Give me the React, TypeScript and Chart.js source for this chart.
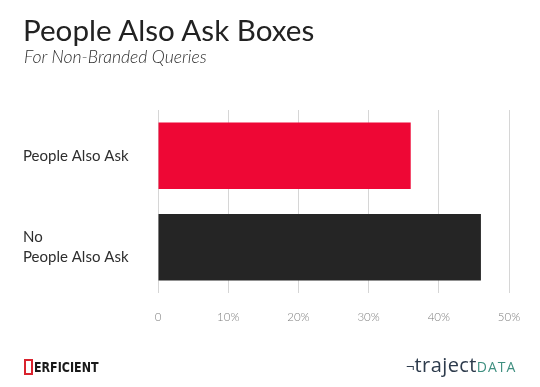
import React, { useEffect, useRef } from "react";
import { Chart, registerables } from "chart.js";

Chart.register(...registerables);

const categories: (string | string[])[] = ["People Also Ask", ["No", "People Also Ask"]];
const values: number[] = [36, 46];
const barColors: string[] = ["#ee0735", "#252525"];
const xTicks: number[] = [0, 10, 20, 30, 40, 50];

export default function App() {
  const ref = useRef<HTMLCanvasElement | null>(null);

  useEffect(() => {
    document.body.style.margin = "0";
    const canvas = ref.current;
    if (!canvas) return;
    const chart = new Chart(canvas, {
      type: "bar",
      data: {
        labels: categories,
        datasets: [
          {
            data: values,
            backgroundColor: barColors,
            borderWidth: 0,
            barPercentage: 0.727,
            categoryPercentage: 1,
          },
        ],
      },
      options: {
        indexAxis: "y",
        animation: false,
        responsive: false,
        devicePixelRatio: 1,
        layout: { padding: { left: 23, right: 31, top: 110, bottom: 0 } },
        plugins: { legend: { display: false }, tooltip: { enabled: false } },
        scales: {
          x: {
            min: xTicks[0],
            max: xTicks[xTicks.length - 1],
            afterFit: (s: any) => {
              s.height = 94;
            },
            afterBuildTicks: (s: any) => {
              s.ticks = xTicks.map((v) => ({ value: v }));
            },
            border: { display: false },
            grid: { color: "#d6d6d6", lineWidth: 1, drawTicks: false },
            ticks: {
              padding: 17,
              color: "#7e7e7e",
              font: { family: "Lato", size: 11.5, weight: "300" as any },
              callback: (v: any) => (Number(v) === 0 ? "0" : `${v}%`),
            },
          },
          y: {
            afterFit: (s: any) => {
              s.width = 135;
            },
            border: { display: false },
            grid: { display: false, drawTicks: false },
            ticks: {
              crossAlign: "far",
              padding: 0,
              color: "#2e2e2e",
              font: { family: "Lato", size: 15, lineHeight: 1.3 },
            },
          },
        },
      },
    });
    return () => chart.destroy();
  }, []);

  return (
    <div style={{ position: "relative", width: 540, height: 387, background: "#fff", overflow: "hidden" }}>
      <canvas ref={ref} width={540} height={387} style={{ position: "absolute", left: 0, top: 0 }} />
      <div
        style={{
          position: "absolute",
          left: 23,
          top: 12,
          fontFamily: "Lato",
          fontSize: 29.6,
          color: "#222",
          lineHeight: "36px",
          whiteSpace: "nowrap",
        }}
      >
        People Also Ask Boxes
      </div>
      <div
        style={{
          position: "absolute",
          left: 24,
          top: 46,
          fontFamily: "Lato",
          fontStyle: "italic",
          fontWeight: 300,
          fontSize: 17.6,
          color: "#2e2e2e",
          lineHeight: "22px",
          whiteSpace: "nowrap",
        }}
      >
        For Non-Branded Queries
      </div>
      <div
        style={{
          position: "absolute",
          left: 24,
          top: 358,
          height: 18,
          display: "flex",
          alignItems: "center",
          whiteSpace: "nowrap",
        }}
      >
        <span
          style={{
            display: "inline-block",
            width: 9,
            height: 16,
            boxSizing: "border-box",
            border: "2.5px solid #d9232e",
            color: "#d9232e",
            fontSize: 0,
            marginRight: 1,
          }}
        >
          P
        </span>
        <span
          style={{
            fontFamily: "'Liberation Sans Narrow', 'DejaVu Sans Condensed', sans-serif",
            fontWeight: 700,
            fontSize: 14,
            color: "#1a1a1a",
            transform: "scaleX(0.88)",
            transformOrigin: "left",
            display: "inline-block",
          }}
        >
          ERFICIENT
        </span>
      </div>
      <div
        style={{
          position: "absolute",
          left: 406,
          top: 354,
          whiteSpace: "nowrap",
          fontFamily: "'Open Sans', sans-serif",
          lineHeight: "22px",
        }}
      >
        <span style={{ color: "#2d3b4c", fontSize: 15 }}>¬</span>
        <span style={{ color: "#2d3b4c", fontSize: 20, letterSpacing: 0.4 }}>traject</span>
        <span style={{ color: "#3f8f80", fontSize: 14, letterSpacing: 1 }}>DATA</span>
      </div>
    </div>
  );
}
